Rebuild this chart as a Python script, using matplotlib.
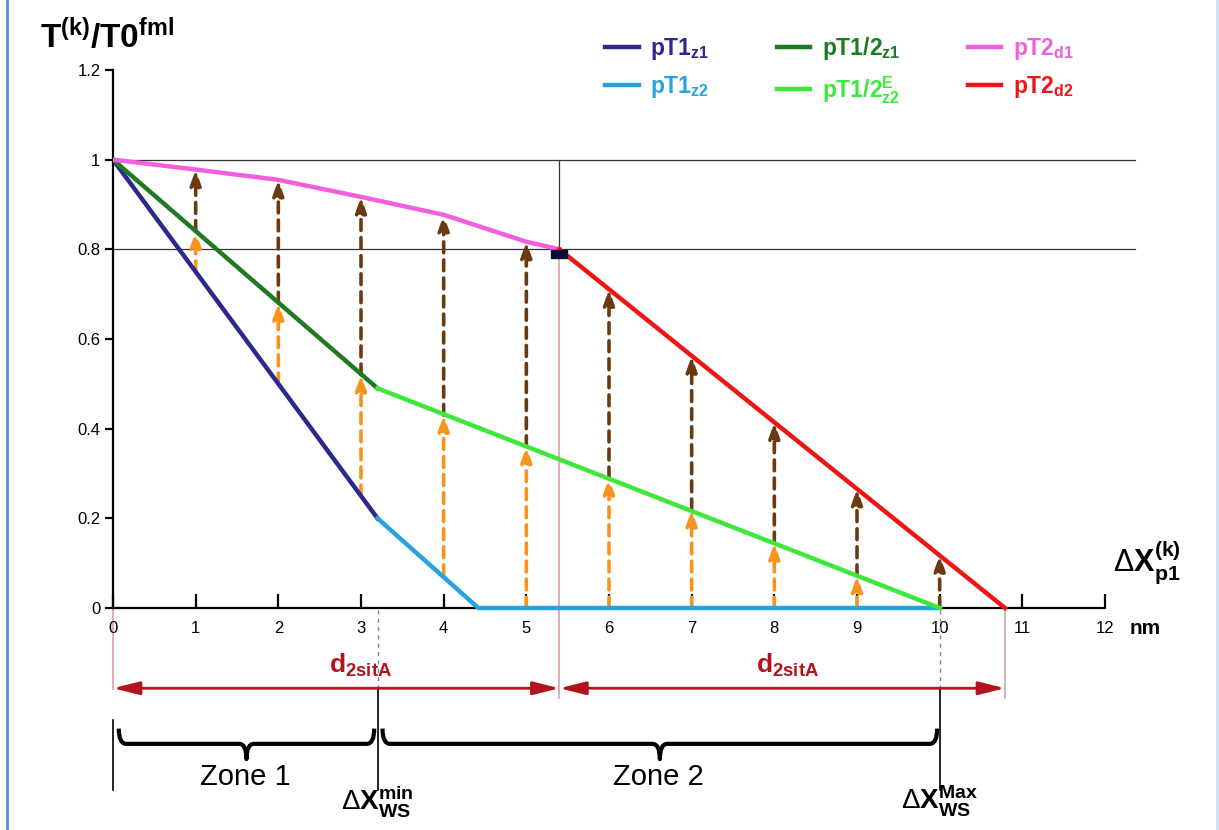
import numpy as np
import matplotlib.pyplot as plt
from matplotlib.lines import Line2D
from matplotlib.path import Path
from matplotlib.patches import PathPatch

plt.rcParams['font.family'] = ['Liberation Sans', 'DejaVu Sans']
plt.rcParams['mathtext.fontset'] = 'custom'
plt.rcParams['mathtext.rm'] = 'Liberation Sans'
plt.rcParams['mathtext.it'] = 'Liberation Sans:italic'
plt.rcParams['mathtext.bf'] = 'Liberation Sans:bold'

# --- données ---
x_z1 = [0, 3.2]
pT1_z1 = [1.0, 0.2]
x_z2 = [3.2, 4.42, 10.0]
pT1_z2 = [0.2, 0.0, 0.0]
pT12_z1 = [1.0, 0.49]
x_z2E = [3.2, 10.0]
pT12_z2E = [0.49, 0.0]
x_d1 = [0, 1, 2, 3, 4, 5, 5.4]
pT2_d1 = [1.0, 0.978, 0.955, 0.917, 0.877, 0.817, 0.8]
x_d2 = [5.4, 10.79]
pT2_d2 = [0.8, 0.0]

arrow_x = [1, 2, 3, 4, 5, 6, 7, 8, 9, 10]
orange_lo = [0.75, 0.5, 0.25, 0.072, 0.0, 0.0, 0.0, 0.0, 0.0, np.nan]
orange_hi = [0.84, 0.68, 0.52, 0.43, 0.36, 0.29, 0.219, 0.145, 0.072, np.nan]
brown_lo = [0.84, 0.68, 0.52, 0.43, 0.36, 0.29, 0.219, 0.145, 0.072, 0.0]
brown_hi = [0.978, 0.955, 0.917, 0.877, 0.817, 0.711, 0.562, 0.414, 0.266, 0.118]

x_ws_min = 3.2
x_ws_max = 10.0
x_knee = 5.4
x_end = 10.79
x_ticks = list(range(0, 13))
y_ticks = [0, 0.2, 0.4, 0.6, 0.8, 1.0, 1.2]
y_ticklabels = ['0', '0.2', '0.4', '0.6', '0.8', '1', '1.2']

c_z1 = '#2b2a8c'
c_z2 = '#27a3dd'
c_12z1 = '#1f7a22'
c_12z2 = '#3de83a'
c_d1 = '#ef5fe0'
c_d2 = '#ee1515'
c_brown = '#6b3a0e'
c_orange = '#f7941d'
c_dark_red = '#b3141c'
c_pink_line = '#d9a3a3'

fig = plt.figure(figsize=(12.19, 8.30), dpi=100)
W, H = 1219, 830
ax = fig.add_axes([113 / W, (H - 608) / H, (1105 - 113) / W, (608 - 70) / H])
ax.set_xlim(0, 12)
ax.set_ylim(0, 1.2)
for s in ['top', 'right']:
    ax.spines[s].set_visible(False)
for s in ['left', 'bottom']:
    ax.spines[s].set_linewidth(1.6)
    ax.spines[s].set_zorder(1)
ax.set_xticks(x_ticks)
ax.set_yticks(y_ticks)
ax.set_yticklabels(y_ticklabels)
ax.tick_params(axis='x', direction='in', length=10, width=1.6, pad=9, labelsize=12)
ax.tick_params(axis='y', direction='out', length=6, width=1.6, pad=3, labelsize=12)
ax.patch.set_alpha(0)

# lignes de référence
ax.plot([0, 12.36], [1.0, 1.0], color='#333333', lw=0.9, clip_on=False, zorder=1)
ax.plot([0, 12.36], [0.8, 0.8], color='#333333', lw=0.9, clip_on=False, zorder=1)
ax.plot([x_knee, x_knee], [0.8, 1.0], color='#333333', lw=0.9, zorder=1)
ax.plot([x_knee, x_knee], [-0.2, 0.8], color=c_pink_line, lw=1.2, clip_on=False, zorder=1)
ax.plot([0, 0], [-0.18, 0], color=c_pink_line, lw=1.2, clip_on=False, zorder=1)
ax.plot([x_end, x_end], [-0.2, 0], color=c_pink_line, lw=1.2, clip_on=False, zorder=1)
for xv in [x_ws_min, x_ws_max]:
    ax.plot([xv, xv], [-0.18, 0], color='#888888', lw=1, ls=(0, (3, 3)), clip_on=False)
    ax.plot([xv, xv], [-0.405, -0.18], color='black', lw=1.2, clip_on=False)
ax.plot([0, 0], [-0.405, -0.25], color='black', lw=1.2, clip_on=False)

# flèches verticales
def up_arrow(x, lo, hi, color):
    ax.annotate('', xy=(x, hi), xytext=(x, lo),
                arrowprops=dict(arrowstyle='-|>,head_length=0.9,head_width=0.32',
                                color=color, lw=2.6, ls=(0, (3, 2)),
                                shrinkA=0, shrinkB=0), zorder=2)

for x, lo, hi in zip(arrow_x, orange_lo, orange_hi):
    if not np.isnan(lo):
        up_arrow(x, lo, hi, c_orange)
for x, lo, hi in zip(arrow_x, brown_lo, brown_hi):
    up_arrow(x, lo, hi, c_brown)

# courbes
lw = 3.2
ax.plot(x_z1, pT1_z1, color=c_z1, lw=lw, zorder=3, label=r'$\mathbf{pT1_{z1}}$')
ax.plot(x_z2, pT1_z2, color=c_z2, lw=lw, zorder=3, clip_on=False, label=r'$\mathbf{pT1_{z2}}$')
ax.plot(x_z1, pT12_z1, color=c_12z1, lw=lw, zorder=3, label=r'$\mathbf{pT1/2_{z1}}$')
ax.plot(x_z2E, pT12_z2E, color=c_12z2, lw=lw, zorder=3, clip_on=False, label=r'$\mathbf{pT1/2^{E}_{z2}}$')
ax.plot(x_d1, pT2_d1, color=c_d1, lw=lw, zorder=3, label=r'$\mathbf{pT2_{d1}}$')
ax.plot(x_d2, pT2_d2, color=c_d2, lw=lw, zorder=3, clip_on=False, label=r'$\mathbf{pT2_{d2}}$')
rect = [(-1, -0.45), (1, -0.45), (1, 0.45), (-1, 0.45), (-1, -0.45)]
ax.plot([x_knee], [0.79], marker=rect, ms=12, color='#0b0b3b', zorder=4)

leg = ax.legend(ncol=3, loc='upper left', bbox_to_anchor=(594 / W, 1 - 24 / H),
                bbox_transform=fig.transFigure, frameon=False, fontsize=16.5,
                handlelength=1.45, handletextpad=0.5, columnspacing=2.95,
                labelspacing=0.5, borderpad=0)
for line, text in zip(leg.get_lines(), leg.get_texts()):
    text.set_color(line.get_color())

# titres d'axes
fig.text(40 / W, 1 - 48 / H, r'$\mathbf{T^{(k)}/T0^{fml}}$', fontsize=24, ha='left', va='baseline')
ax.text(12.1, 0.05, r'$\Delta\mathbf{X^{(k)}_{p1}}$', fontsize=22, ha='left', va='bottom')
ax.text(12.3, -0.045, 'nm', fontsize=15, fontweight='bold', ha='left', va='center')

# flèches d2sitA
for a, b in [(0, x_knee), (x_knee, x_end)]:
    ax.annotate('', xy=(b, -0.179), xytext=(a, -0.179), annotation_clip=False,
                arrowprops=dict(arrowstyle='<|-|>,head_length=1.6,head_width=0.4',
                                color=c_dark_red, lw=2, shrinkA=0, shrinkB=0))
ax.text(2.99, -0.145, r'$\mathbf{d_{2sitA}}$', color=c_dark_red, fontsize=19, ha='center', va='baseline')
ax.text(8.16, -0.145, r'$\mathbf{d_{2sitA}}$', color=c_dark_red, fontsize=19, ha='center', va='baseline')

# accolades
def brace(x0, x1, y, h=0.034, q=0.09):
    xm = (x0 + x1) / 2
    verts = [(x0, y + h), (x0, y), (x0 + q, y), (xm - q, y), (xm, y), (xm, y - h),
             (xm, y), (xm + q, y), (x1 - q, y), (x1, y), (x1, y + h)]
    codes = [Path.MOVETO, Path.CURVE3, Path.CURVE3, Path.LINETO, Path.CURVE3, Path.CURVE3,
             Path.CURVE3, Path.CURVE3, Path.LINETO, Path.CURVE3, Path.CURVE3]
    ax.add_patch(PathPatch(Path(verts, codes), fill=False, lw=3, color='black',
                           clip_on=False, capstyle='butt', joinstyle='round'))

brace(0.07, x_ws_min - 0.04, -0.303)
brace(x_ws_min + 0.06, x_ws_max - 0.03, -0.303)
ax.text(1.6, -0.345, 'Zone 1', fontsize=21, ha='center', va='top')
ax.text(6.6, -0.345, 'Zone 2', fontsize=21, ha='center', va='top')
ax.text(x_ws_min, -0.45, r'$\Delta\mathbf{X^{min}_{WS}}$', fontsize=20, ha='center', va='baseline')
ax.text(x_ws_max, -0.45, r'$\Delta\mathbf{X^{Max}_{WS}}$', fontsize=20, ha='center', va='baseline')

# cadre
fig.add_artist(Line2D([7 / W, 7 / W], [0, 1], color='#5b8bd0', lw=2, transform=fig.transFigure))
fig.add_artist(Line2D([1217 / W, 1217 / W], [0, 1], color='#cddcf2', lw=2, transform=fig.transFigure))

fig.savefig('out.png', dpi=100)
